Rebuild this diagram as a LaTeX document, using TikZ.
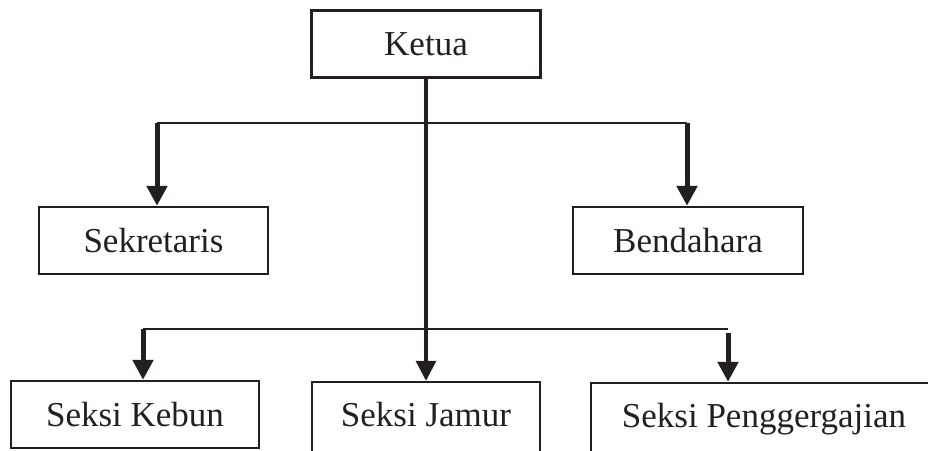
\documentclass[tikz,border=0pt]{standalone}
\usepackage{fontspec}
\setmainfont{Liberation Serif}
\usepackage{tikz}
\usetikzlibrary{arrows.meta}
\definecolor{ink}{RGB}{35,31,32}

\begin{document}
\begin{tikzpicture}[x=1pt,y=-1pt,
	box/.style={draw=ink,text=ink,line width=2.4pt,minimum height=67pt,inner sep=0pt,
		font=\fontsize{35}{40}\selectfont},
	link/.style={draw=ink,line width=2.8pt},
	arr/.style={draw=ink,line width=5pt,-{Triangle[length=20pt,width=20pt]}}]
			\useasboundingbox (0,0) rectangle (928,450);
			\clip (0,0) rectangle (928,450);
			% boxes
			\node[box,minimum width=229pt] (ketua) at (426,44) {Ketua};
			\node[box,minimum width=229pt] (sekretaris) at (153.5,240.5) {Sekretaris};
			\node[box,minimum width=230pt] (bendahara) at (688,240.5) {Bendahara};
			\node[box,minimum width=248pt] (kebun) at (135,414.5) {Seksi Kebun};
			\node[box,minimum width=228pt,minimum height=72pt] (jamur) at (426,418) {\raisebox{8pt}{Seksi Jamur}};
			\node[box,minimum width=346pt,minimum height=72pt] (gergaji) at (764,419) {\raisebox{8pt}{Seksi Penggergajian}};
			% branch points
			\coordinate (top1) at (157,123);
			\coordinate (top2) at (687,123);
			\coordinate (bot1) at (143,329);
			\coordinate (bot2) at (728,329);
			\coordinate (bot3) at (728,333);
			% connectors
			\draw[link] (top1) -- (top2);
			\draw[link] (bot1) -- (bot2);
			\draw[link,line width=3.2pt,-{Triangle[length=20pt,width=20pt]}] (ketua.south) -- (jamur.north);
			\draw[arr] (top1) -- (top1 |- sekretaris.north);
			\draw[arr] (top2) -- (top2 |- bendahara.north);
			\draw[arr] (bot1) -- (bot1 |- kebun.north);
			\draw[arr] (bot3) -- (bot3 |- gergaji.north);
		\end{tikzpicture}
\end{document}
